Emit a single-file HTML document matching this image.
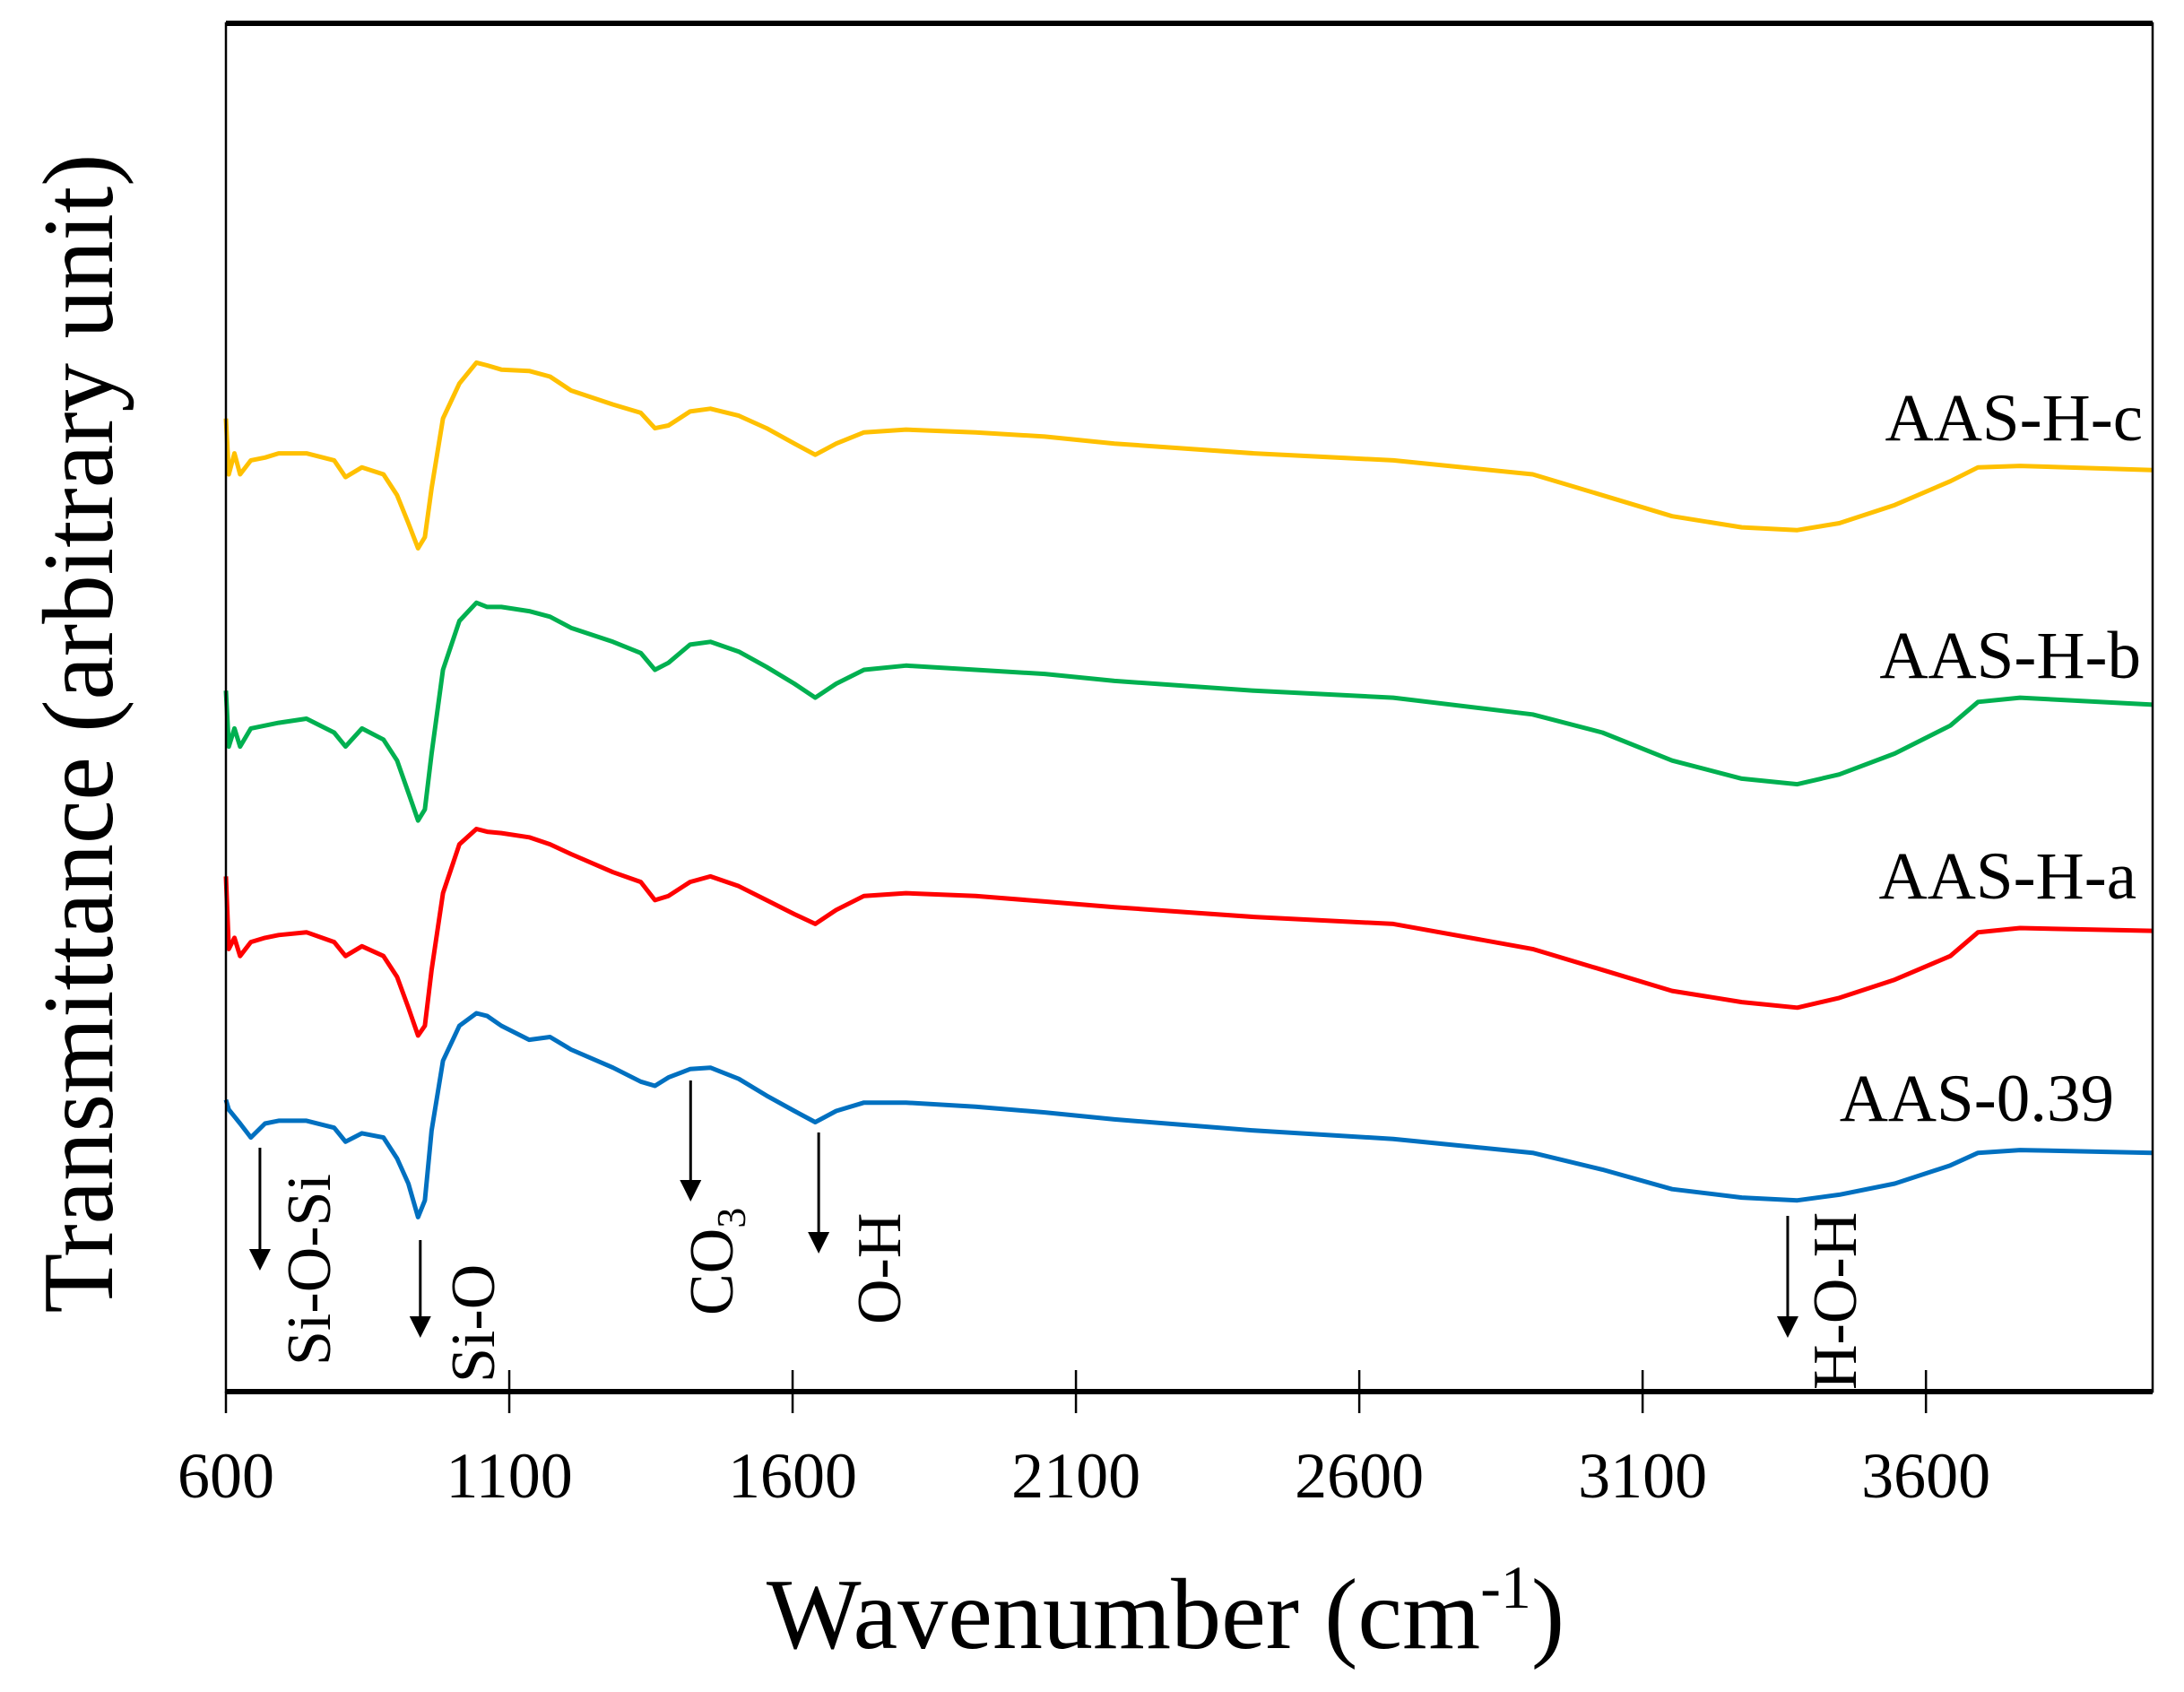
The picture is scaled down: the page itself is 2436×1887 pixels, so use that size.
<!DOCTYPE html>
<html><head><meta charset="utf-8"><style>
html,body{margin:0;padding:0;background:#fff;}
svg{display:block;font-family:"Liberation Serif",serif;}
</style></head><body>
<svg id="chart" width="2436" height="1887" viewBox="0 0 2436 1887">
<g id="series"></g>
<g id="axes"></g>
<g id="annot"></g>
</svg>
<script>
const wavenumbers = [600,605,615,625,644,669,693,742,791,811,840,878,902,922,939,951,963,983,1012,1042,1061,1086,1135,1172,1209,1283,1332,1357,1381,1419,1455,1505,1554,1603,1640,1677,1726,1800,1923,2045,2168,2414,2660,2906,3029,3152,3275,3373,3447,3545,3643,3692,3766,4000];
const seriesHc = [697,657,672,657,667,669,672,672,667,655,662,657,642,622,604,612,647,697,722,737,735,732,731,727,717,707,701,690,692,702,704,699,690,679,671,679,687,689,687,684,679,672,667,657,642,627,619,617,622,635,652,662,663,660];
const seriesHb = [502,462,475,462,475,477,479,482,472,462,475,467,452,429,409,417,457,517,552,565,562,562,559,555,547,537,529,517,522,535,537,530,519,507,497,507,517,520,517,514,509,502,497,485,472,452,439,435,442,457,477,494,497,492];
const seriesHa = [369,317,325,312,322,325,327,329,322,312,319,312,297,275,255,262,302,357,392,403,401,400,397,392,385,372,365,352,355,365,369,362,352,342,335,345,355,357,355,351,347,340,335,317,302,287,279,275,282,295,312,329,332,330];
const series039 = [209,202,197,192,182,192,194,194,189,179,185,182,167,149,125,137,187,237,262,271,269,262,252,254,245,232,222,219,225,231,232,224,212,201,193,201,207,207,204,200,195,187,181,171,159,145,139,137,141,149,162,171,173,171];
const seriesNames = ["AAS-H-c","AAS-H-b","AAS-H-a","AAS-0.39"];
const xTicks = [600,1100,1600,2100,2600,3100,3600];
const bandWavenumbers = [660,943,1420,1646,3356];
const bandLabels = ["Si-O-Si","Si-O","CO3","O-H","H-O-H"];

const NS="http://www.w3.org/2000/svg";
const PL=252,PR=2401,PT=26,PB=1552;
const X0=600,X1=4000,Y0=0,Y1=980;
function sx(w){return PL+(w-X0)*(PR-PL)/(X1-X0);}
function sy(v){return PB-(v-Y0)*(PB-PT)/(Y1-Y0);}
function mk(tag,attrs,parent){const e=document.createElementNS(NS,tag);for(const k in attrs)e.setAttribute(k,attrs[k]);parent.appendChild(e);return e;}

const sg=document.getElementById('series');
const allSeries=[seriesHc,seriesHb,seriesHa,series039];
const colors=["#FFC000","#00B050","#FF0000","#0070C0"];
const slugs=["aas-h-c","aas-h-b","aas-h-a","aas-0-39"];
allSeries.forEach((s,i)=>{
  let d="";
  s.forEach((v,j)=>{d+=(j?"L":"M")+sx(wavenumbers[j]).toFixed(1)+","+sy(v).toFixed(1);});
  const p=mk('path',{d:d,fill:"none",stroke:colors[i],"stroke-width":5,"stroke-linejoin":"round"},sg);
  
  
});
const labelY=[491,756,1002,1250];
const labelX=[2390,2388,2383,2358];
seriesNames.forEach((n,i)=>{
  const t=mk('text',{x:labelX[i],y:labelY[i],"text-anchor":"end","font-size":75,fill:"#000"},sg);
  t.textContent=n;
  
  
});

const ag=document.getElementById('axes');
const frameEl=mk('rect',{x:PL,y:PT,width:PR-PL,height:PB-PT,fill:"none",stroke:"#000","stroke-width":2.5},ag);


const topBorder=mk('line',{x1:PL,y1:PT,x2:PR,y2:PT,stroke:"#000","stroke-width":6},ag);


const xAxisLine=mk('line',{x1:PL,y1:PB,x2:PR,y2:PB,stroke:"#000","stroke-width":6},ag);


xTicks.forEach((v,i)=>{
  const x=sx(v);
  const tk=mk('line',{x1:x,y1:i===0?PB:PB-24,x2:x,y2:PB+24,stroke:"#000","stroke-width":2.5},ag);
  
  
  const t=mk('text',{x:x,y:1670,"text-anchor":"middle","font-size":72,fill:"#000"},ag);
  t.textContent=v;
  
  
});
const xt=mk('text',{x:1300,y:1838,"text-anchor":"middle","font-size":112,fill:"#000"},ag);
xt.innerHTML='Wavenumber (cm<tspan dy="-45" font-size="68">-1</tspan><tspan dy="45">)</tspan>';


const yt=mk('text',{x:0,y:0,"text-anchor":"middle","font-size":112,fill:"#000",transform:"translate(125,818) rotate(-90)",textLength:1293,lengthAdjust:"spacingAndGlyphs"},ag);
yt.textContent='Transmittance (arbitrary unit)';



const an=document.getElementById('annot');
const arrowTop=[1280,1383,1205,1263,1356];
const arrowBot=[1417,1492,1340,1398,1492];
const labBaseX=[368,551,817,1004,2070];
const labBottom=[1523,1542,1467,1477,1550];
bandWavenumbers.forEach((w,i)=>{
  const x=sx(w);
  const ln=mk('line',{x1:x,y1:arrowTop[i],x2:x,y2:arrowBot[i]-20,stroke:"#000","stroke-width":3},an);
  
  
  const hd=mk('polygon',{points:(x-12)+","+(arrowBot[i]-24)+" "+(x+12)+","+(arrowBot[i]-24)+" "+x+","+arrowBot[i],fill:"#000"},an);
  
  
  const t=mk('text',{x:0,y:0,"font-size":70,fill:"#000",transform:"translate("+labBaseX[i]+","+labBottom[i]+") rotate(-90)"},an);
  if(bandLabels[i]==="CO3"){t.innerHTML='CO<tspan dy="14" font-size="46">3</tspan>';}
  else t.textContent=bandLabels[i];
  
  
});
</script>
</body></html>
